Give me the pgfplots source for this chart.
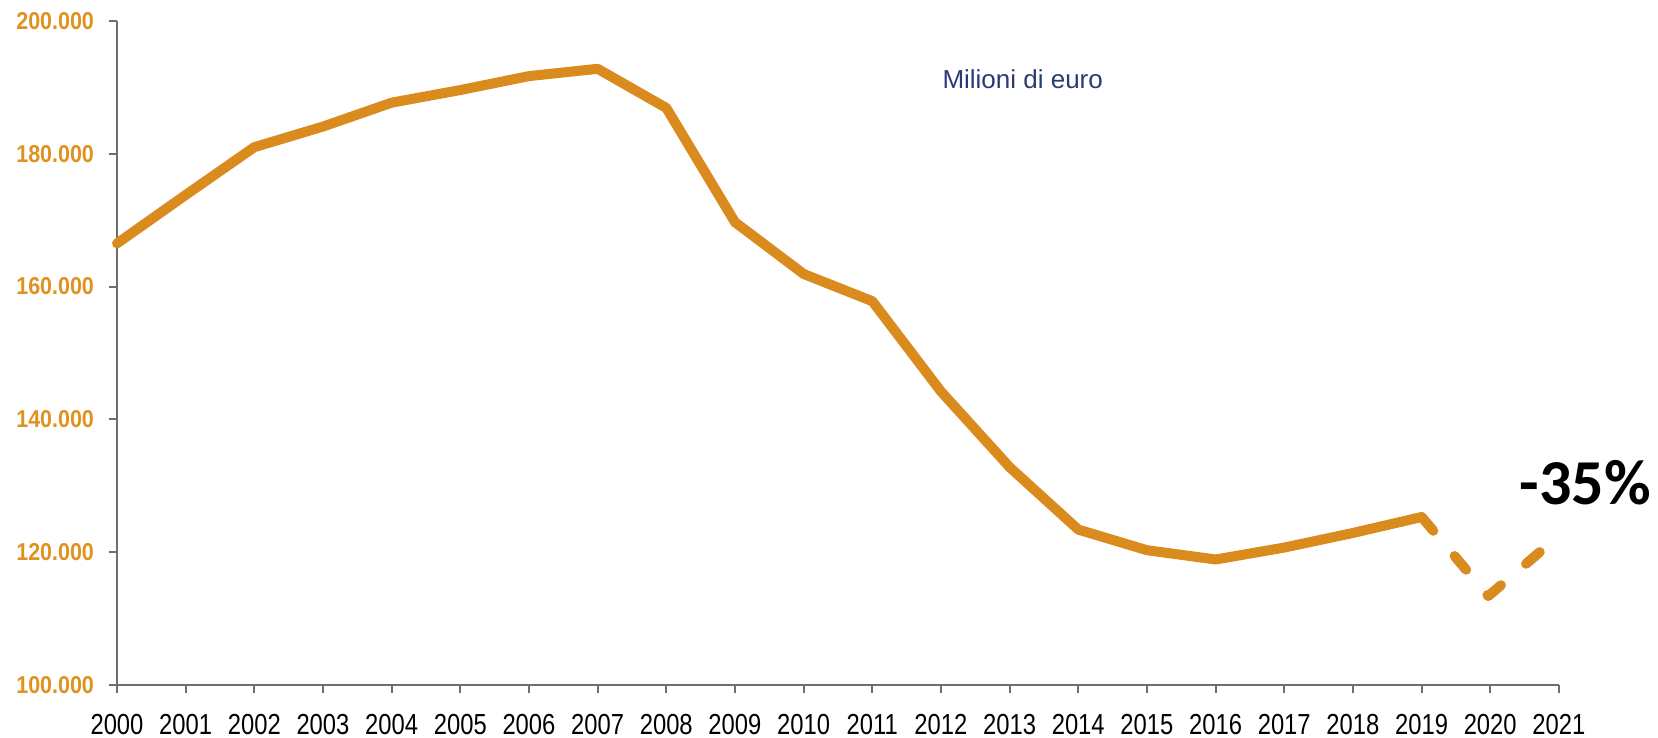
\documentclass[border=0pt]{standalone}
\usepackage{pgfplots}
\pgfplotsset{compat=1.18}
\usepackage{fontspec}
\setmainfont{Liberation Sans}
\newfontfamily\condfont[FakeStretch=0.82]{Liberation Sans}
\newfontfamily\ylabfont[FakeStretch=0.88]{Liberation Sans}
\newfontfamily\bigfont{Carlito}
\definecolor{lineor}{HTML}{D98B1E}
\definecolor{labor}{HTML}{DF921F}
\definecolor{navy}{HTML}{2B3A75}
\definecolor{axgray}{HTML}{6E6E6E}
\begin{document}
\begin{tikzpicture}
\useasboundingbox (-58.5pt,-26.5pt) rectangle (770.5pt,342.5pt);
\begin{axis}[
  at={(0,0)}, anchor=south west,
  scale only axis,
  width=721pt, height=332pt,
  xmin=2000, xmax=2021,
  ymin=100000, ymax=200000,
  scaled y ticks=false, scaled x ticks=false,
  axis x line*=bottom, axis y line*=left,
  axis line style={axgray, line width=1pt},
  every tick/.style={axgray, line width=1pt},
  tick align=outside, major tick length=4pt,
  xtick={2000,...,2021},
  xticklabels={2000,2001,2002,2003,2004,2005,2006,2007,2008,2009,2010,2011,2012,2013,2014,2015,2016,2017,2018,2019,2020,2021},
  ytick={100000,120000,140000,160000,180000,200000},
  yticklabels={100.000,120.000,140.000,160.000,180.000,200.000},
  xticklabel style={font=\condfont\fontsize{14.5}{15}\selectfont, text=black, yshift=-7pt},
  yticklabel style={font=\ylabfont\bfseries\fontsize{12.2}{13}\selectfont, text=labor, xshift=-4pt},
  clip=false,
]
\addplot[lineor, line width=5pt, line join=round, line cap=round] coordinates {
(2000,166500) (2001,173800) (2002,181000) (2003,184100) (2004,187700) (2005,189600)
(2006,191700) (2007,192800) (2008,186900) (2009,169700) (2010,161900) (2011,157800)
(2012,144200) (2013,132800) (2014,123400) (2015,120300) (2016,118900) (2017,120700)
(2018,122900) (2019,125300)};
\addplot[lineor, line width=5pt, line cap=round, line join=round, dash pattern=on 9pt off 16.5pt] coordinates {
(2019,125300) (2019.97,113400) (2020.74,120200)};
\node[anchor=base, text=navy, font=\fontsize{13}{14}\selectfont, inner sep=0pt] at (axis cs:2013.19,189760) {Milioni di euro};
\node[anchor=base, text=black, font=\bigfont\bfseries\fontsize{32}{34}\selectfont, inner sep=0pt] at (axis cs:2021.38,127110) {-35\%};
\end{axis}
\end{tikzpicture}
\end{document}
